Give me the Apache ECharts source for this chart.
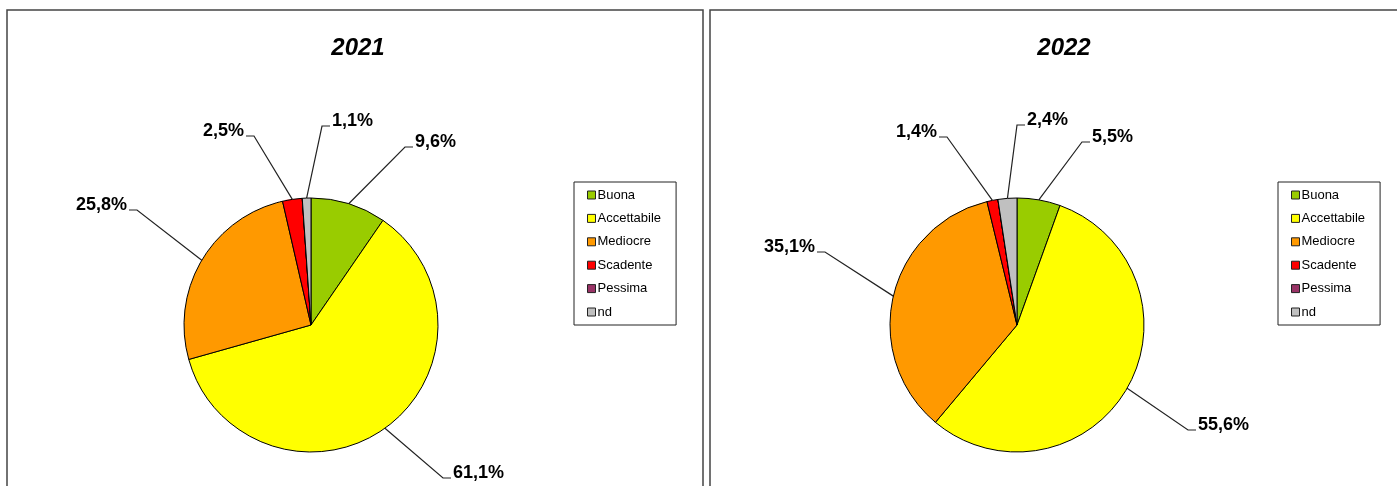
<!DOCTYPE html>
<html>
<head>
<meta charset="utf-8">
<title>Qualità 2021 - 2022</title>
<script src="https://cdn.jsdelivr.net/npm/echarts@6/dist/echarts.min.js"></script>
<style>
  html, body { margin: 0; padding: 0; background: #ffffff; }
  #chart { width: 1397px; height: 486px; }
</style>
</head>
<body>
<div id="chart"></div>
<script>
// ---- data -------------------------------------------------------------
const years = ['2021', '2022'];
const categories = ['Buona', 'Accettabile', 'Mediocre', 'Scadente', 'Pessima', 'nd'];
const values2021 = [9.6, 61.1, 25.8, 2.5, 0, 1.1];
const values2022 = [5.5, 55.6, 35.1, 1.4, 0, 2.4];

// ---- styling / layout ---------------------------------------------------
const sliceColors = ['#99CC00', '#FFFF00', '#FF9900', '#FF0000', '#993366', '#C0C0C0'];
const FONT = '"Liberation Sans", Arial, sans-serif';
const pieCenters = [[311, 325], [1017, 325]];
const pieRadius = 127;
const titleX = [353, 1059];
const legendPos = [[574, 182], [1278, 182]];
// label text anchor, relative to the pie centre (null = no label)
const labelOffsets = [
  [[104, -183], [142, 148], [-184, -120], [-67, -194], null, [21, -204]],
  [[75, -188], [181, 100], [-202, -78], [-80, -193], null, [10, -205]]
];

const fmt = v => v.toFixed(1).replace('.', ',') + '%';

function buildData(values) {
  return categories.map((name, i) => {
    const item = { name: name, value: values[i], itemStyle: { color: sliceColors[i] } };
    if (values[i] === 0) {
      item.label = { show: false };
      item.labelLine = { show: false };
    }
    return item;
  });
}

function makeLabelLayout(seriesIndex) {
  return function (params) {
    const off = labelOffsets[seriesIndex][params.dataIndex];
    if (!off) return {};
    const c = pieCenters[seriesIndex];
    const x = c[0] + off[0];
    const y = c[1] + off[1];
    const toRight = off[0] >= 0;
    const lineY = y + 5;
    const endX = toRight ? x - 2 : x + 2;
    const elbowX = toRight ? endX - 8 : endX + 8;
    const start = params.labelLinePoints && params.labelLinePoints[0];
    const out = { x: x, y: y, align: toRight ? 'left' : 'right', verticalAlign: 'middle' };
    if (start) out.labelLinePoints = [start, [elbowX, lineY], [endX, lineY]];
    return out;
  };
}

const seriesValues = [values2021, values2022];

const option = {
  backgroundColor: '#ffffff',
  animation: false,
  textStyle: { fontFamily: FONT },
  graphic: [
    { type: 'rect', silent: true, z: 0,
      shape: { x: 7, y: 10, width: 696, height: 500 },
      style: { fill: 'none', stroke: '#444', lineWidth: 1.5 } },
    { type: 'rect', silent: true, z: 0,
      shape: { x: 710, y: 10, width: 700, height: 500 },
      style: { fill: 'none', stroke: '#444', lineWidth: 1.5 } }
  ],
  title: years.map((y, i) => ({
    text: y,
    left: titleX[i],
    top: 31,
    textAlign: 'center',
    textStyle: { fontFamily: FONT, fontSize: 24, fontWeight: 'bold', fontStyle: 'italic', color: '#000' }
  })),
  legend: legendPos.map(p => ({
    orient: 'vertical',
    left: p[0],
    top: p[1],
    data: categories,
    selectedMode: false,
    icon: 'rect',
    itemWidth: 8,
    itemHeight: 8,
    itemGap: 9.4,
    padding: [6, 15, 6, 13],
    borderColor: '#222',
    borderWidth: 1,
    itemStyle: { borderColor: '#222', borderWidth: 1 },
    textStyle: { fontFamily: FONT, fontSize: 13, color: '#000', lineHeight: 14, padding: [0, 0, 0, -3] }
  })),
  series: seriesValues.map((vals, s) => ({
    type: 'pie',
    name: years[s],
    center: pieCenters[s],
    radius: pieRadius,
    startAngle: 90,
    clockwise: true,
    avoidLabelOverlap: false,
    itemStyle: { borderColor: '#000', borderWidth: 1 },
    emphasis: { disabled: true },
    label: {
      show: true,
      position: 'outside',
      formatter: p => fmt(p.value),
      fontFamily: FONT,
      fontSize: 18,
      fontWeight: 'bold',
      color: '#000'
    },
    labelLine: { show: true, length: 15, length2: 8, lineStyle: { color: '#222', width: 1.2 } },
    labelLayout: makeLabelLayout(s),
    data: buildData(vals)
  }))
};

const chart = echarts.init(document.getElementById('chart'), null, { renderer: 'canvas' });
chart.setOption(option);
</script>
</body>
</html>
